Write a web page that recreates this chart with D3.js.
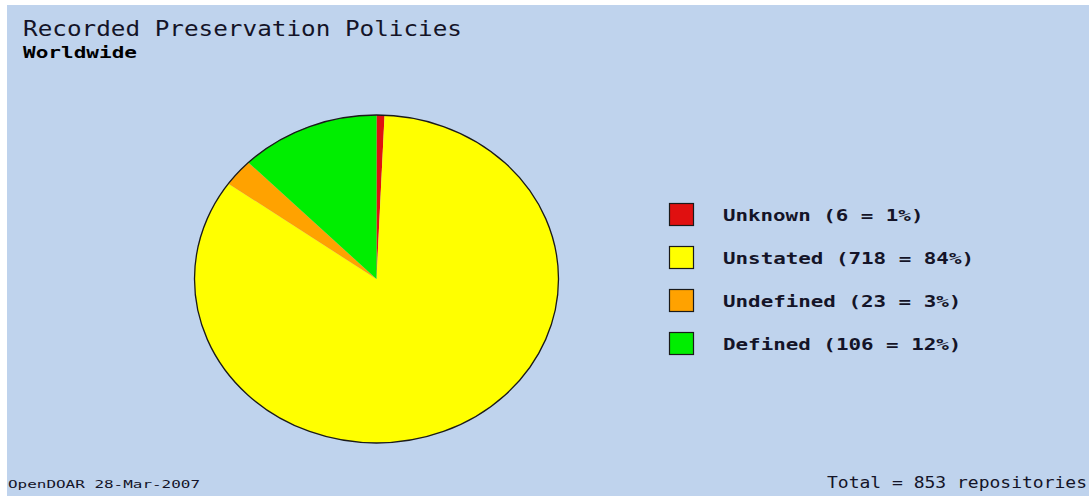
<!DOCTYPE html>
<html>
<head>
<meta charset="utf-8">
<script src="https://cdn.jsdelivr.net/npm/d3@7/dist/d3.min.js"></script>
<style>
html,body{margin:0;padding:0;background:#fff;}
svg{display:block;}
</style>
</head>
<body>
<svg id="chart" width="1089" height="496"></svg>
<script>
const categories = ["Unknown", "Unstated", "Undefined", "Defined"];
const values = [6, 718, 23, 106];
const percents = [1, 84, 3, 12];
const colors = ["#e01010", "#ffff00", "#ffa200", "#00ee00"];
const titleText = "Recorded Preservation Policies";
const subtitleText = "Worldwide";
const footerLeft = "OpenDOAR 28-Mar-2007";
const totalValue = 853;

const svg = d3.select("#chart");
const W = 1089, H = 496;

svg.append("rect").attr("x", 7).attr("y", 5).attr("width", W - 7).attr("height", H - 5).attr("fill", "#bfd3ed");

const textColor = "#141428";
svg.append("text").attr("x", 23).attr("y", 36)
  .attr("font-family", "DejaVu Sans Mono, monospace").attr("font-size", 22)
  .attr("textLength", 439).attr("lengthAdjust", "spacingAndGlyphs")
  .attr("fill", textColor).text(titleText);
svg.append("text").attr("x", 23).attr("y", 58)
  .attr("font-family", "DejaVu Sans Mono, monospace").attr("font-size", 15).attr("font-weight", "bold")
  .attr("textLength", 114).attr("lengthAdjust", "spacingAndGlyphs")
  .attr("fill", "#000").text(subtitleText);

// Pie (elliptical)
const cx = 376.5, cy = 279, rx = 182, ry = 164;
const pie = d3.pie().sort(null).value(d => d)(values);
const arc = d3.arc().innerRadius(0).outerRadius(rx);
const g = svg.append("g").attr("transform", `translate(${cx},${cy}) scale(1,${ry / rx})`);
g.selectAll("path.slice").data(pie).enter().append("path")
  .attr("class", "slice")
  .attr("d", arc)
  .attr("fill", (d, i) => colors[i]);
g.append("path")
  .attr("d", d3.arc().innerRadius(0).outerRadius(rx)({startAngle: 0, endAngle: 2 * Math.PI}))
  .attr("fill", "none").attr("stroke", "#1a1a1a").attr("stroke-width", 1.3)
  .attr("vector-effect", "non-scaling-stroke");

// Legend
const legend = svg.append("g");
const ly = d3.scaleBand().domain(categories).range([203, 375]);
categories.forEach((c, i) => {
  const y = ly(c);
  legend.append("rect").attr("x", 669.5).attr("y", y + 0.5).attr("width", 24).attr("height", 22)
    .attr("fill", colors[i]).attr("stroke", "#1a1a1a").attr("stroke-width", 1.2);
  const label = `${c} (${values[i]} = ${percents[i]}%)`;
  legend.append("text").attr("x", 723).attr("y", y + 18)
    .attr("font-family", "DejaVu Sans Mono, monospace").attr("font-size", 16).attr("font-weight", "bold")
    .attr("textLength", label.length * 12.65 - 2).attr("lengthAdjust", "spacingAndGlyphs")
    .attr("fill", textColor).text(label);
});

// Footer
svg.append("text").attr("x", 8).attr("y", 488)
  .attr("font-family", "DejaVu Sans Mono, monospace").attr("font-size", 10)
  .attr("textLength", 192).attr("lengthAdjust", "spacingAndGlyphs")
  .attr("fill", textColor).text(footerLeft);
const totalText = `Total = ${totalValue} repositories`;
svg.append("text").attr("x", 827).attr("y", 488)
  .attr("font-family", "DejaVu Sans Mono, monospace").attr("font-size", 16)
  .attr("textLength", 260).attr("lengthAdjust", "spacingAndGlyphs")
  .attr("fill", textColor).text(totalText);
</script>
</body>
</html>
